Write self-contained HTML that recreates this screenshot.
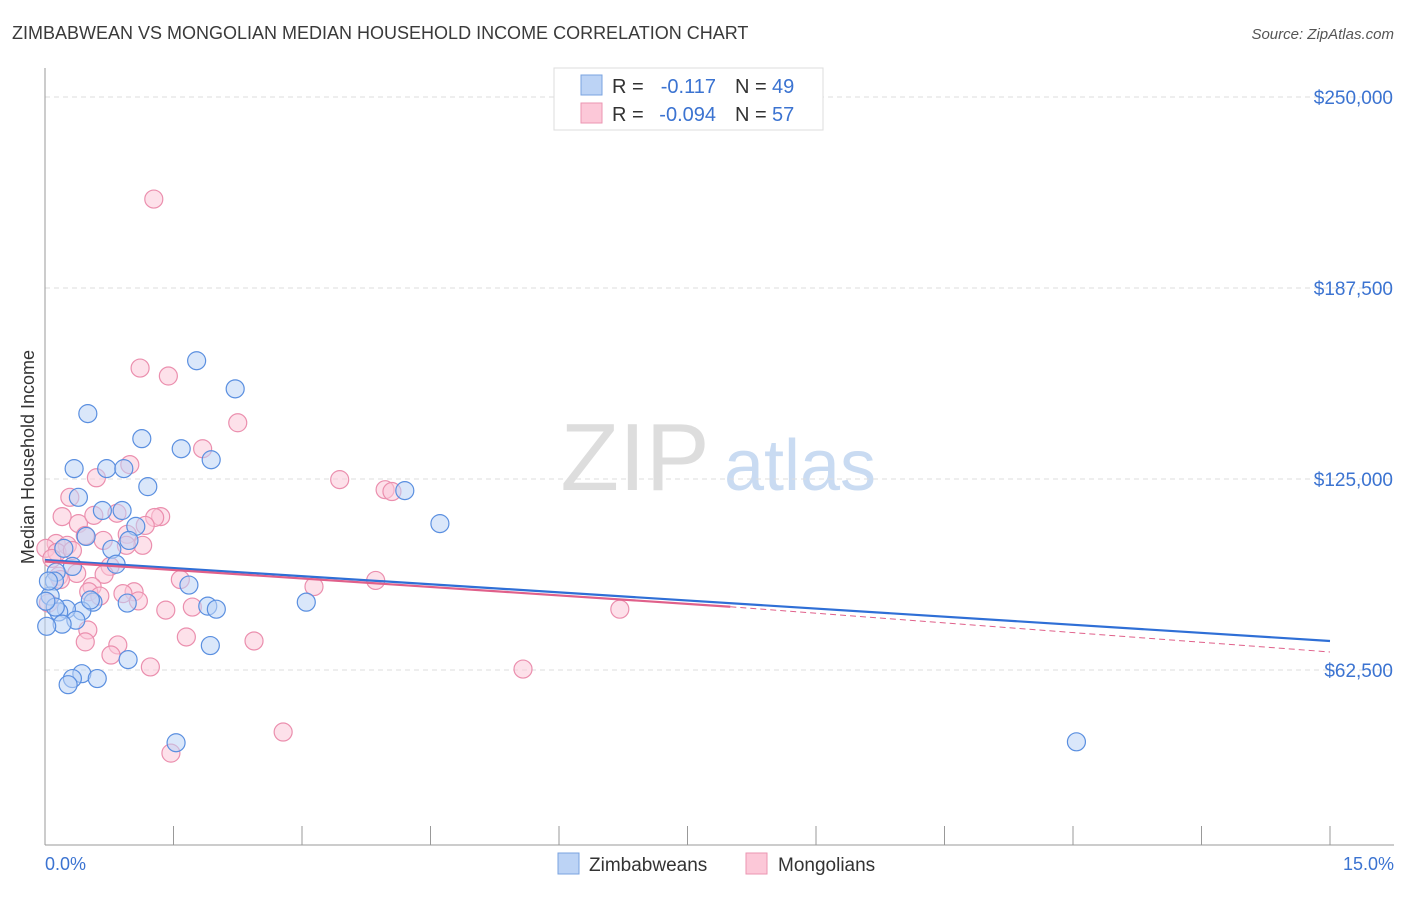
<!DOCTYPE html>
<html><head><meta charset="utf-8"><style>
body{margin:0;background:#fff;font-family:"Liberation Sans",sans-serif;}
svg text{font-family:"Liberation Sans",sans-serif;}
</style></head><body>
<svg id="c" width="1406" height="892">
<text x="12" y="39" font-size="18" fill="#3a3a3a">ZIMBABWEAN VS MONGOLIAN MEDIAN HOUSEHOLD INCOME CORRELATION CHART</text>
<text x="1394" y="39" font-size="15" fill="#555" font-style="italic" text-anchor="end">Source: ZipAtlas.com</text>
<text x="34" y="457" font-size="18" fill="#333" text-anchor="middle" transform="rotate(-90 34 457)">Median Household Income</text>
<g><text x="635" y="490" font-size="96" fill="#ddd" font-family="Liberation Serif" text-anchor="middle">ZIP</text><text x="800" y="490" font-size="72" fill="#c9dbf2" text-anchor="middle">atlas</text></g>
<g id="grid"></g><g id="marks"></g>
<g>
<rect x="554" y="68" width="269" height="62" fill="#fff" stroke="#ddd"/>
<rect x="581" y="75" width="21" height="20" fill="#bcd3f5" stroke="#7aa3e0"/>
<rect x="581" y="103" width="21" height="20" fill="#fcc8d8" stroke="#eb96b2"/>
<text x="612" y="93" font-size="20" fill="#333">R = </text><text x="716" y="93" font-size="20" fill="#3b73d1" text-anchor="end">-0.117</text>
<text x="735" y="93" font-size="20" fill="#333">N = </text><text x="772" y="93" font-size="20" fill="#3b73d1">49</text>
<text x="612" y="121" font-size="20" fill="#333">R = </text><text x="716" y="121" font-size="20" fill="#3b73d1" text-anchor="end">-0.094</text>
<text x="735" y="121" font-size="20" fill="#333">N = </text><text x="772" y="121" font-size="20" fill="#3b73d1">57</text>
</g>
<g>
<rect x="558" y="853" width="21" height="21" fill="#bcd3f5" stroke="#7aa3e0"/>
<text x="589" y="871" font-size="19" fill="#333">Zimbabweans</text>
<rect x="746" y="853" width="21" height="21" fill="#fcc8d8" stroke="#eb96b2"/>
<text x="778" y="871" font-size="19" fill="#333">Mongolians</text>
</g>
<text x="45" y="870" font-size="18" fill="#3b73d1">0.0%</text>
<text x="1394" y="870" font-size="18" fill="#3b73d1" text-anchor="end">15.0%</text>
</svg>
<script>
const yTicks=[62500,125000,187500,250000];
const yTickLabels=["$62,500","$125,000","$187,500","$250,000"];
const zimX=[1.77,2.22,0.5,1.13,1.59,1.94,0.34,0.72,0.92,1.2,0.39,0.67,0.9,4.2,4.61,0.22,0.48,1.06,0.98,0.78,0.83,0.32,0.13,0.11,0.06,1.68,3.05,1.9,2.0,0.96,0.56,0.43,0.25,0.16,0.36,0.2,0.02,1.93,0.97,0.43,0.32,0.61,0.27,1.53,12.04,0.04,0.53,0.12,0.01];
const zimY=[163700,154500,146400,138200,134900,131300,128400,128400,128400,122500,119000,114700,114700,121200,110400,102300,106200,109500,104900,102000,97100,96400,94500,91600,86700,90300,84700,83400,82400,84400,84700,81800,82400,81500,78800,77500,76800,70500,65900,61300,59700,59700,57700,38700,39000,91600,85400,83100,85000];
const monX=[1.27,1.11,1.44,2.25,1.84,0.99,0.6,3.44,3.97,4.05,0.29,0.2,0.39,0.57,0.84,1.35,1.28,1.17,0.47,0.68,0.13,0.26,0.01,0.96,1.14,0.14,0.32,0.76,0.95,0.16,0.37,0.69,1.58,3.86,3.14,0.55,0.51,0.64,1.04,0.91,1.09,0.18,1.72,1.41,6.71,0.5,0.47,1.65,2.44,0.85,0.77,1.23,5.58,2.78,1.47,0.08,0.04];
const monY=[216600,161300,158700,143400,134900,129700,125400,124800,121500,120900,119000,112700,110400,113100,113800,112700,112400,109800,106500,104900,103900,103300,102300,106900,103300,101000,101600,96400,103300,93200,94100,93800,92100,91800,89800,89800,88100,86700,88100,87500,85100,92100,83100,82100,82400,75600,71700,73300,72000,70700,67400,63500,62800,42200,35300,99000,84400];
const blueLine=[98500,72000];
const pinkLine=[98000,83200,68400];
const NS="http://www.w3.org/2000/svg";
const X0=45,X1=1330,Y250=97,PX_PER=191/62500;
const xs=p=>X0+(X1-X0)*p/15;
const ys=v=>Y250+(250000-v)*PX_PER;
function mk(tag,attrs,parent){const e=document.createElementNS(NS,tag);for(const k in attrs)e.setAttribute(k,attrs[k]);parent.appendChild(e);return e;}
const grid=document.getElementById('grid'),marks=document.getElementById('marks'),svg=document.getElementById('c');
yTicks.forEach((t,i)=>{
 const l=mk('line',{x1:45,x2:1394,y1:ys(t),y2:ys(t),stroke:'#ddd','stroke-dasharray':'5,4'},grid);
 
 
 const tx=mk('text',{x:1393,y:ys(t)+7,'font-size':19,fill:'#3b73d1','text-anchor':'end'},grid);
 tx.textContent=yTickLabels[i];
 
 
});
const ax=mk('line',{x1:45,x2:45,y1:68,y2:845,stroke:'#999'},grid);


const bx=mk('line',{x1:45,x2:1394,y1:845,y2:845,stroke:'#999'},grid);


for(let i=0;i<=10;i++){
 const t=mk('line',{x1:xs(i*1.5),x2:xs(i*1.5),y1:826,y2:845,stroke:'#999'},grid);
 
 
}
function pts(X,Y,fill,stroke,name){
 X.forEach((x,i)=>{
  const c=mk('circle',{cx:xs(x),cy:ys(Y[i]),r:9,fill:fill,'fill-opacity':0.55,stroke:stroke,'stroke-width':1.2},marks);
  
  
 });
}
pts(monX,monY,'#fcc8d8','#eb8fae','point-mongolian');
pts(zimX,zimY,'#bcd3f5','#5a8fe0','point-zimbabwean');
const bl=mk('line',{x1:xs(0),y1:ys(blueLine[0]),x2:xs(15),y2:ys(blueLine[1]),stroke:'#2f6fd6','stroke-width':2.2},marks);


const pl=mk('line',{x1:xs(0),y1:ys(pinkLine[0]),x2:xs(8),y2:ys(pinkLine[1]),stroke:'#e0608a','stroke-width':2.2},marks);


const pd=mk('line',{x1:xs(8),y1:ys(pinkLine[1]),x2:xs(15),y2:ys(pinkLine[2]),stroke:'#e0608a','stroke-width':1,'stroke-dasharray':'6,4'},marks);


</script>
</body></html>
